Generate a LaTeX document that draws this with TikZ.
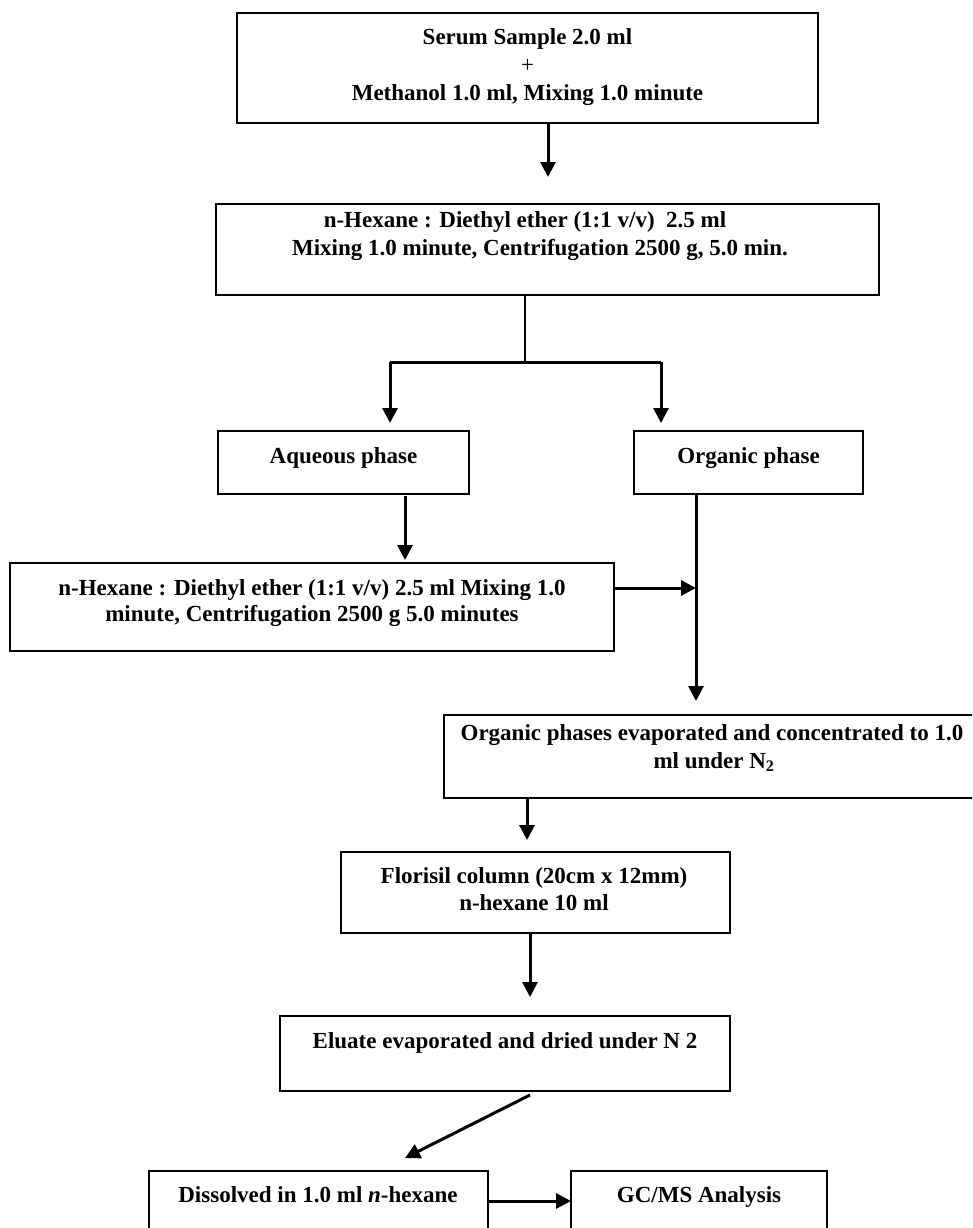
\documentclass[tikz,border=0pt]{standalone}
\usepackage{fontspec}
\setmainfont{Liberation Serif}
\usetikzlibrary{arrows.meta}
\tikzset{
  box/.style={draw, line width=2.3pt, inner sep=0pt, rectangle},
  txt/.style={anchor=base, inner sep=0pt, font=\fontsize{23}{28}\selectfont\bfseries},
  arr/.style={line width=3pt, -{Triangle[length=15pt,width=15pt]}},
  ln/.style={line width=3pt},
  thin/.style={line width=1.5pt}
}
\begin{document}
\begin{tikzpicture}[x=1pt,y=-1pt]
\useasboundingbox (0,0) rectangle (972,1228);
\clip (0,0) rectangle (972,1228);
% boxes
\node[box, minimum width=581pt, minimum height=110pt] (b1) at (527.5,68) {};
\node[box, minimum width=663pt, minimum height=91pt] (b2) at (547.5,249.5) {};
\node[box, minimum width=251pt, minimum height=63pt] (aq) at (343.5,462.5) {};
\node[box, minimum width=229pt, minimum height=63pt] (org) at (748.5,462.5) {};
\node[box, minimum width=604pt, minimum height=88pt] (b3) at (312,607) {};
\node[box, minimum width=536pt, minimum height=83pt] (b4) at (712,756.5) {};
\node[box, minimum width=389pt, minimum height=81pt] (b5) at (535.5,892.5) {};
\node[box, minimum width=450pt, minimum height=75pt] (b6) at (505,1053.5) {};
\node[box, minimum width=339pt, minimum height=89pt] (b7) at (318.5,1215.5) {};
\node[box, minimum width=256pt, minimum height=89pt] (b8) at (699,1215.5) {};
% texts
\node[txt] (t1a) at (527.5,45) {Serum Sample 2.0 ml};
\node[txt] (t1b) at (527.5,73) {\mdseries +};
\node[txt] (t1c) at (527.5,101) {Methanol 1.0 ml, Mixing 1.0 minute};
\node[txt] (t2a) at (525,227) {n-Hexane : Diethyl ether (1:1 v/v)\ \ 2.5 ml};
\node[txt] (t2b) at (540,255) {Mixing 1.0 minute, Centrifugation 2500 g, 5.0 min.};
\node[txt] (taq) at (343.5,463) {Aqueous phase};
\node[txt] (tor) at (748.5,463) {Organic phase};
\node[txt] (t3a) at (312,595) {n-Hexane : Diethyl ether (1:1 v/v) 2.5 ml Mixing 1.0};
\node[txt] (t3b) at (312,621) {minute, Centrifugation 2500 g 5.0 minutes};
\node[txt] (t4a) at (712,740) {Organic phases evaporated and concentrated to 1.0};
\node[txt] (t4b) at (714,768) {ml under N\textsubscript{2}};
\node[txt] (t5a) at (534,883) {Florisil column (20cm x 12mm)};
\node[txt] (t5b) at (534,910) {n-hexane 10 ml};
\node[txt] (t6) at (505,1048) {Eluate evaporated and dried under N 2};
\node[txt] (t7) at (318,1202) {Dissolved in 1.0 ml \textit{n}-hexane};
\node[txt] (t8) at (699,1202) {GC/MS Analysis};
% coordinates
\coordinate (c1s) at (548,123);
\coordinate (c1e) at (548,177);
\coordinate (c2s) at (525,295);
\coordinate (c2e) at (525,362);
\coordinate (hl) at (390,362);
\coordinate (hr) at (661,362);
\coordinate (hle) at (390,423);
\coordinate (hre) at (661,423);
\coordinate (aqs) at (405,496);
\coordinate (aqe) at (405,560);
\coordinate (ors) at (696,494);
\coordinate (ore) at (696,701);
\coordinate (b3s) at (614,588);
\coordinate (b3e) at (696,588);
\coordinate (b4s) at (527,798);
\coordinate (b4e) at (527,840);
\coordinate (b5s) at (530,933);
\coordinate (b5e) at (530,997);
\coordinate (b6s) at (530,1095);
\coordinate (b6e) at (405,1158);
\coordinate (b7s) at (488,1201);
\coordinate (b7e) at (571,1201);
% connectors
\draw[arr] (c1s) -- (c1e);
\draw[thin] (c2s) -- (c2e);
\draw[ln] (hl) -- (hr);
\draw[arr] (hl) -- (hle);
\draw[arr] (hr) -- (hre);
\draw[arr] (aqs) -- (aqe);
\draw[arr] (ors) -- (ore);
\draw[arr] (b3s) -- (b3e);
\draw[arr] (b4s) -- (b4e);
\draw[arr] (b5s) -- (b5e);
\draw[arr] (b6s) -- (b6e);
\draw[arr] (b7s) -- (b7e);
\end{tikzpicture}
\end{document}
